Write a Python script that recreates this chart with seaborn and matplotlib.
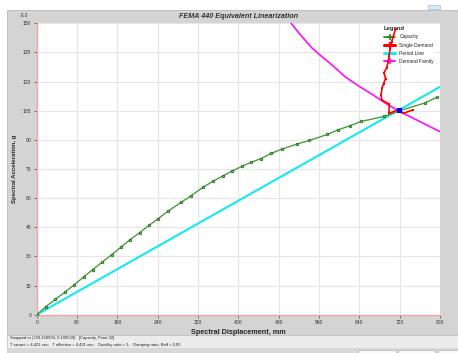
import matplotlib
matplotlib.use("Agg")
import matplotlib.pyplot as plt
import seaborn as sns
import pandas as pd
from matplotlib.patches import Rectangle
from matplotlib.lines import Line2D

# ---------------- data (Sd in mm, Sa in 1e-3 g) ----------------
cap_sd = [0, 17.8, 37, 55.5, 74, 93, 111, 129.6, 148.8, 166.7, 185, 204, 222.8, 241,
          259.9, 286.3, 305.5, 330, 349.8, 369, 388, 407.3, 425, 444.4, 465, 487, 517,
          541, 576.6, 598.4, 621.6, 644, 689.7, 720.2, 770, 793.6]
cap_sa = [0, 4.1, 7.9, 11.5, 15.3, 19.4, 23.2, 27, 30.9, 34.7, 38.6, 42.2, 46, 49.4,
          53.2, 57.8, 61.1, 65.6, 68.7, 71.4, 74, 76.4, 78.4, 80.3, 83, 85.3, 87.9,
          89.7, 92.8, 95.2, 97.3, 99.5, 102.1, 105.0, 109, 111.9]

dem_sd = [712, 707, 704, 701, 699, 697, 694, 689, 692, 688, 685, 683, 684.5, 699.6,
          698.5, 717, 727, 746]
dem_sa = [147, 143, 140.5, 137, 133, 130, 127, 124.5, 121.5, 119, 116.5, 113, 110.5,
          108.4, 103.6, 105.5, 103.6, 105.4]

per_sd = [0, 800]
per_sa = [0, 117.3]

fam_sd = [504.6, 525, 545.6, 565, 582, 611.7, 640, 668, 694, 727, 754, 800]
fam_sa = [150, 143.5, 137.4, 133, 129.4, 122.5, 117.5, 113, 108.5, 103.7, 100.2, 94.2]

pp_sd = [720.2]
pp_sa = [105.0]

x_ticks = [0, 80, 160, 240, 320, 400, 480, 560, 640, 720, 800]
y_ticks = [0, 15, 30, 45, 60, 75, 90, 105, 120, 135, 150]

title = "FEMA 440 Equivalent Linearization"
xlabel = "Spectral Displacement, mm"
ylabel = "Spectral Acceleration, g"
status1 = "Snapped to (720,168594, 0,100539)   [Capacity, Point 32]"
status2 = ("T secant = 4,421 sec;   T effective = 4,421 sec;   Ductility ratio = 1;   "
           "Damping ratio, Beff = 0,05")
legend_names = ["Capacity", "Single Demand", "Period Line", "Demand Family"]

# ---------------- figure ----------------
sns.set_style("white")
plt.rcParams["font.family"] = ["Liberation Sans", "DejaVu Sans"]

W, H = 458, 353
fig = plt.figure(figsize=(W / 100, H / 100), dpi=100, facecolor="white")

def fr(x0, y0, x1, y1, **kw):
    fig.patches.append(Rectangle((x0 / W, 1 - y1 / H), (x1 - x0) / W, (y1 - y0) / H,
                                 transform=fig.transFigure, **kw))

# panels
fr(7, 10, 458, 335, facecolor="#d4d4d4", edgecolor="#b8b8b8", lw=0.6, zorder=-2)
fr(7, 335, 458, 348, facecolor="#ececec", edgecolor="#c4c4c4", lw=0.6, zorder=-2)
fr(7, 348, 458, 353, facecolor="#d8d8d8", edgecolor="none", zorder=-2)
for (a, b) in [(358, 396), (398, 435), (438, 458)]:
    fr(a, 350, b, 353.5, facecolor="#fafafa", edgecolor="#b0b0b0", lw=0.5, zorder=-1)
fr(428, 5, 440, 9, facecolor="#dde8f4", edgecolor="#9ab", lw=0.4, zorder=-1)

ax = fig.add_axes([36.7 / W, 1 - 314.7 / H, (440 - 36.7) / W, (314.7 - 23.3) / H])
ax.set_zorder(5)
ax.set_facecolor("white")

df_cap = pd.DataFrame({"sd": cap_sd, "sa": cap_sa})
df_dem = pd.DataFrame({"sd": dem_sd, "sa": dem_sa})
df_per = pd.DataFrame({"sd": per_sd, "sa": per_sa})
df_fam = pd.DataFrame({"sd": fam_sd, "sa": fam_sa})
df_pp = pd.DataFrame({"sd": pp_sd, "sa": pp_sa})

sns.lineplot(data=df_per, x="sd", y="sa", ax=ax, color="#14e8f0", lw=1.5,
             estimator=None, sort=False, zorder=3)
sns.lineplot(data=df_cap, x="sd", y="sa", ax=ax, color="#4f9a42", lw=1.0,
             marker="o", markersize=1.8, markerfacecolor="#7fbf70",
             markeredgecolor="#1a6e1a", markeredgewidth=0.6,
             estimator=None, sort=False, zorder=4)
sns.lineplot(data=df_fam, x="sd", y="sa", ax=ax, color="#ff10ff", lw=1.2,
             estimator=None, sort=False, zorder=3)
sns.lineplot(data=df_dem, x="sd", y="sa", ax=ax, color="#ff0000", lw=1.2,
             marker="s", markersize=1.8, markeredgewidth=0,
             estimator=None, sort=False, zorder=12)
sns.scatterplot(data=df_pp, x="sd", y="sa", ax=ax, color="#0000ff", marker="s",
                s=14, edgecolor="none", zorder=13)

ax.set_xlim(0, 800)
ax.set_ylim(0, 150)
ax.set_xticks(x_ticks)
ax.set_yticks(y_ticks)
ax.set_xticklabels([str(v) for v in x_ticks])
ax.set_yticklabels([str(v) for v in y_ticks])
ax.grid(True, color="#e6e6e6", lw=0.8)
ax.set_axisbelow(True)
for s in ["top", "right"]:
    ax.spines[s].set_visible(False)
for s in ["left", "bottom"]:
    ax.spines[s].set_color("#f4a4a4")
    ax.spines[s].set_linewidth(1.0)
ax.tick_params(axis="both", which="both", direction="out", length=2, width=0.5,
               color="#444444", labelsize=3.6, labelcolor="#333333", pad=2,
               bottom=True, left=True)
ax.set_xlabel(xlabel, fontsize=5.2, fontweight="bold", labelpad=3)
ax.set_ylabel(ylabel, fontsize=4.3, fontweight="bold", labelpad=4)

fig.text(238.5 / W, 1 - 16 / H, title, ha="center", va="center", fontsize=5.2,
         fontweight="bold", fontstyle="italic", color="#333333")
fig.text(24 / W, 1 - 15.5 / H, "E-3", ha="center", va="center", fontsize=3.4,
         color="#333333")
fig.text(10 / W, 1 - 338.5 / H, status1, ha="left", va="center", fontsize=3.0,
         color="#222222")
fig.text(10 / W, 1 - 344.8 / H, status2, ha="left", va="center", fontsize=3.0,
         color="#222222")

handles = [
    Line2D([], [], color="#1f8a1f", lw=1.2, marker="+", markersize=4, mew=1.2),
    Line2D([], [], color="#ff0000", lw=2.2, marker="+", markersize=5, mew=1.5),
    Line2D([], [], color="#14f0f0", lw=2.2),
    Line2D([], [], color="#ff10ff", lw=1.4, marker="+", markersize=4, mew=1.2),
]
leg = ax.legend(handles, legend_names, loc="upper left",
                bbox_to_anchor=(0.857, 0.995), frameon=True, fontsize=3.5,
                title="Legend", title_fontproperties={"size": 4.2, "weight": "bold"},
                handlelength=2.4, handletextpad=0.8, labelspacing=0.65,
                borderpad=0.3, borderaxespad=0, alignment="left")
leg.get_frame().set_facecolor("white")
leg.get_frame().set_edgecolor("none")
leg.get_frame().set_alpha(1.0)
leg.set_zorder(10)

fig.savefig("out.png", dpi=100, facecolor=fig.get_facecolor())
